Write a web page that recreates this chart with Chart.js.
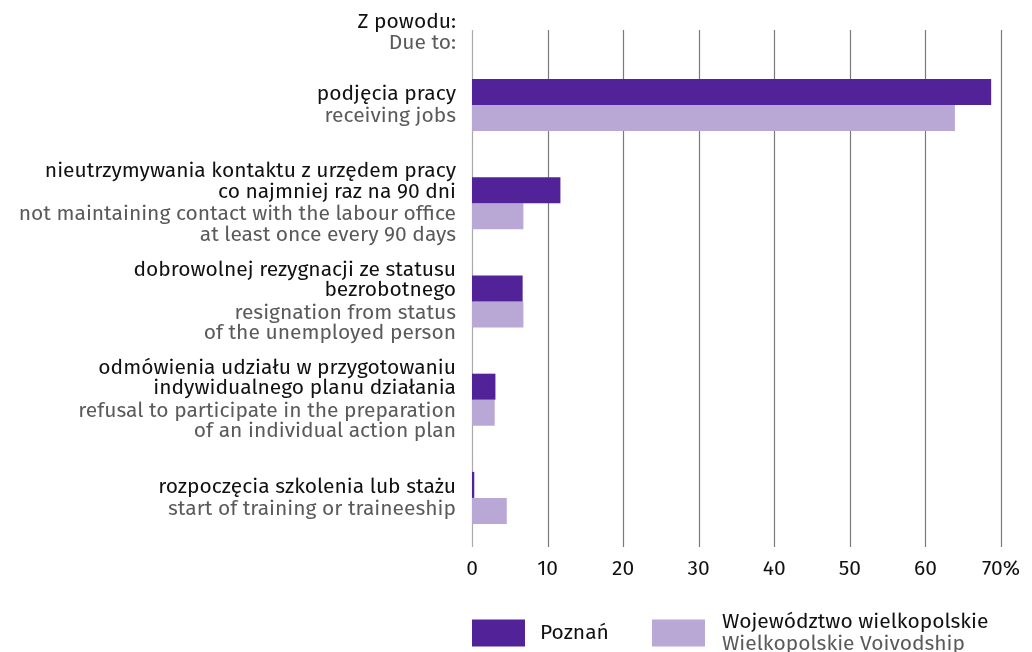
<!DOCTYPE html>
<html>
<head>
<meta charset="utf-8">
<script src="https://cdn.jsdelivr.net/npm/chart.js@4"></script>
<style>
html,body{margin:0;padding:0;background:#fff;}
canvas{display:block;}
</style>
</head>
<body>
<canvas id="c" width="1032" height="652"></canvas>
<script>
const categoriesPL = [
  ["podjęcia pracy"],
  ["nieutrzymywania kontaktu z urzędem pracy", "co najmniej raz na 90 dni"],
  ["dobrowolnej rezygnacji ze statusu", "bezrobotnego"],
  ["odmówienia udziału w przygotowaniu", "indywidualnego planu działania"],
  ["rozpoczęcia szkolenia lub stażu"]
];
const categoriesEN = [
  ["receiving jobs"],
  ["not maintaining contact with the labour office", "at least once every 90 days"],
  ["resignation from status", "of the unemployed person"],
  ["refusal to participate in the preparation", "of an individual action plan"],
  ["start of training or traineeship"]
];
const headerPL = "Z powodu:";
const headerEN = "Due to:";
const poznan = [68.7, 11.7, 6.7, 3.1, 0.3];
const wielkopolska = [63.9, 6.8, 6.8, 3.0, 4.6];
const seriesPL = ["Poznań", "Województwo wielkopolskie"];
const seriesEN = ["", "Wielkopolskie Voivodship"];
const xTickLabels = ["0", "10", "20", "30", "40", "50", "60", "70%"];

const FONT = '"Fira Sans", "Noto Sans", sans-serif';
const FS = 21;
const BLACK = '#111111';
const GREY = '#5a5a5a';
const C1 = '#522398';
const C2 = '#b9a7d6';

const customDraw = {
  id: 'customDraw',
  beforeDatasetsDraw(chart) {
    const ctx = chart.ctx;
    const xs = chart.scales.x;
    const area = chart.chartArea;
    ctx.save();
    xs.ticks.forEach((t, i) => {
      const x = Math.round(xs.getPixelForValue(t.value)) + 0.5;
      ctx.strokeStyle = i === 0 ? '#aaaaaa' : '#7a7a7a';
      ctx.lineWidth = 1.2;
      ctx.beginPath();
      ctx.moveTo(x, area.top - 26);
      ctx.lineTo(x, area.bottom);
      ctx.stroke();
    });
    ctx.restore();
  },
  afterDraw(chart) {
    const ctx = chart.ctx;
    const ys = chart.scales.y;
    const area = chart.chartArea;
    const rx = area.left - 16;
    ctx.save();
    ctx.font = FS + 'px ' + FONT;
    ctx.textAlign = 'right';
    ctx.textBaseline = 'middle';
    const LH = 20.5, GAP = 22.5;
    categoriesPL.forEach((pl, i) => {
      const en = categoriesEN[i];
      const cy = ys.getPixelForValue(i);
      const total = (pl.length - 1) * LH + GAP + (en.length - 1) * LH;
      let y = cy - total / 2;
      pl.forEach((line, k) => {
        ctx.fillStyle = BLACK;
        ctx.fillText(line, rx, y);
        y += (k < pl.length - 1) ? LH : GAP;
      });
      en.forEach((line) => {
        ctx.fillStyle = GREY;
        ctx.fillText(line, rx, y);
        y += LH;
      });
    });
    // header
    ctx.fillStyle = BLACK;
    ctx.fillText(headerPL, rx, area.top - 34);
    ctx.fillStyle = GREY;
    ctx.fillText(headerEN, rx, area.top - 13);

    // legend
    const ly = 633;
    const boxW = 53, boxH = 27;
    const colors = [C1, C2];
    const lxs = [area.left, area.left + 180];
    ctx.textAlign = 'left';
    seriesPL.forEach((name, i) => {
      const lx = lxs[i];
      ctx.fillStyle = colors[i];
      ctx.fillRect(lx, ly - boxH / 2, boxW, boxH);
      if (seriesEN[i]) {
        ctx.fillStyle = BLACK;
        ctx.fillText(name, lx + boxW + 17, ly - 11);
        ctx.fillStyle = GREY;
        ctx.fillText(seriesEN[i], lx + boxW + 17, ly + 11);
      } else {
        ctx.fillStyle = BLACK;
        ctx.fillText(name, lx + boxW + 15, ly);
      }
    });
    ctx.restore();
  }
};

new Chart(document.getElementById('c'), {
  type: 'bar',
  data: {
    labels: categoriesPL.map(a => a.join(' ')),
    datasets: [
      { label: seriesPL[0], data: poznan, backgroundColor: C1, borderWidth: 0 },
      { label: seriesPL[1], data: wielkopolska, backgroundColor: C2, borderWidth: 0 }
    ]
  },
  options: {
    indexAxis: 'y',
    responsive: false,
    animation: false,
    devicePixelRatio: 1,
    layout: { padding: { left: 472, top: 56, right: 31, bottom: 65 } },
    datasets: { bar: { barPercentage: 1, categoryPercentage: 0.53 } },
    plugins: { legend: { display: false }, tooltip: { enabled: false } },
    scales: {
      y: { display: false },
      x: {
        min: 0, max: 70,
        border: { display: false },
        grid: { display: false, drawTicks: false },
        afterFit(s) { s.paddingLeft = 0; s.paddingRight = 0; s.height = 40; },
        ticks: {
          stepSize: 10,
          padding: 10,
          color: BLACK,
          maxRotation: 0,
          font: { family: FONT, size: FS },
          callback: (v, i) => xTickLabels[i]
        }
      }
    }
  },
  plugins: [customDraw]
});
</script>
</body>
</html>
